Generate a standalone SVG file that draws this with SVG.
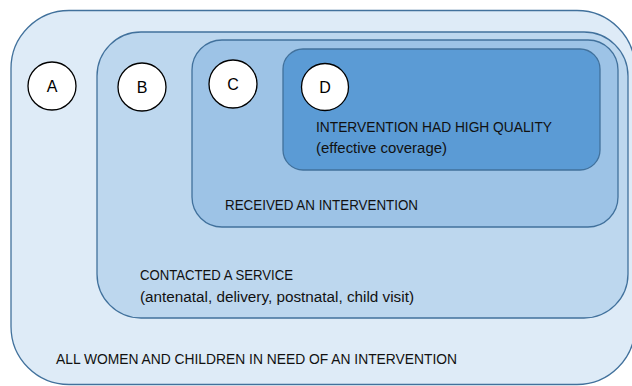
<svg xmlns="http://www.w3.org/2000/svg" width="632" height="386" viewBox="0 0 632 386">
<style>
.box{stroke:#41719C;stroke-width:1.3}
.c{fill:#fff;stroke:#000;stroke-width:1.3}
.l{font-family:"Liberation Sans",Arial,sans-serif;font-size:16px;fill:#000;text-anchor:middle}
.t{font-family:"Liberation Sans",Arial,sans-serif;font-size:14.5px;fill:#111}
.m{font-size:15.5px}
</style>
<rect width="632" height="386" fill="#fff"/>
<g id="A">
<rect class="box" x="11" y="10.5" width="624" height="374" rx="58" fill="#DEEBF7"/>
<circle class="c" cx="52" cy="86" r="24"/>
<text class="l" x="52" y="92">A</text>
<text class="t" x="56" y="364" textLength="401" lengthAdjust="spacingAndGlyphs">ALL WOMEN AND CHILDREN IN NEED OF AN INTERVENTION</text>
</g>
<g id="B">
<rect class="box" x="97" y="32" width="531" height="286" rx="44" fill="#BDD7EE"/>
<circle class="c" cx="142" cy="87" r="24"/>
<text class="l" x="142" y="93">B</text>
<text class="t" x="140" y="280" textLength="153" lengthAdjust="spacingAndGlyphs">CONTACTED A SERVICE</text>
<text class="t m" x="140" y="302" textLength="274" lengthAdjust="spacingAndGlyphs">(antenatal, delivery, postnatal, child visit)</text>
</g>
<g id="C">
<rect class="box" x="192" y="40" width="426" height="187" rx="30" fill="#9DC3E6"/>
<circle class="c" cx="233" cy="84" r="24"/>
<text class="l" x="233" y="90">C</text>
<text class="t" x="225" y="210" textLength="193" lengthAdjust="spacingAndGlyphs">RECEIVED AN INTERVENTION</text>
</g>
<g id="D">
<rect class="box" x="283" y="49" width="317" height="121" rx="20" fill="#5B9BD5"/>
<circle class="c" cx="325" cy="87" r="23.5"/>
<text class="l" x="325" y="93">D</text>
<text class="t" x="316" y="132" textLength="236" lengthAdjust="spacingAndGlyphs">INTERVENTION HAD HIGH QUALITY</text>
<text class="t m" x="316" y="153" textLength="131" lengthAdjust="spacingAndGlyphs">(effective coverage)</text>
</g>
<g id="connectors"></g>
</svg>
